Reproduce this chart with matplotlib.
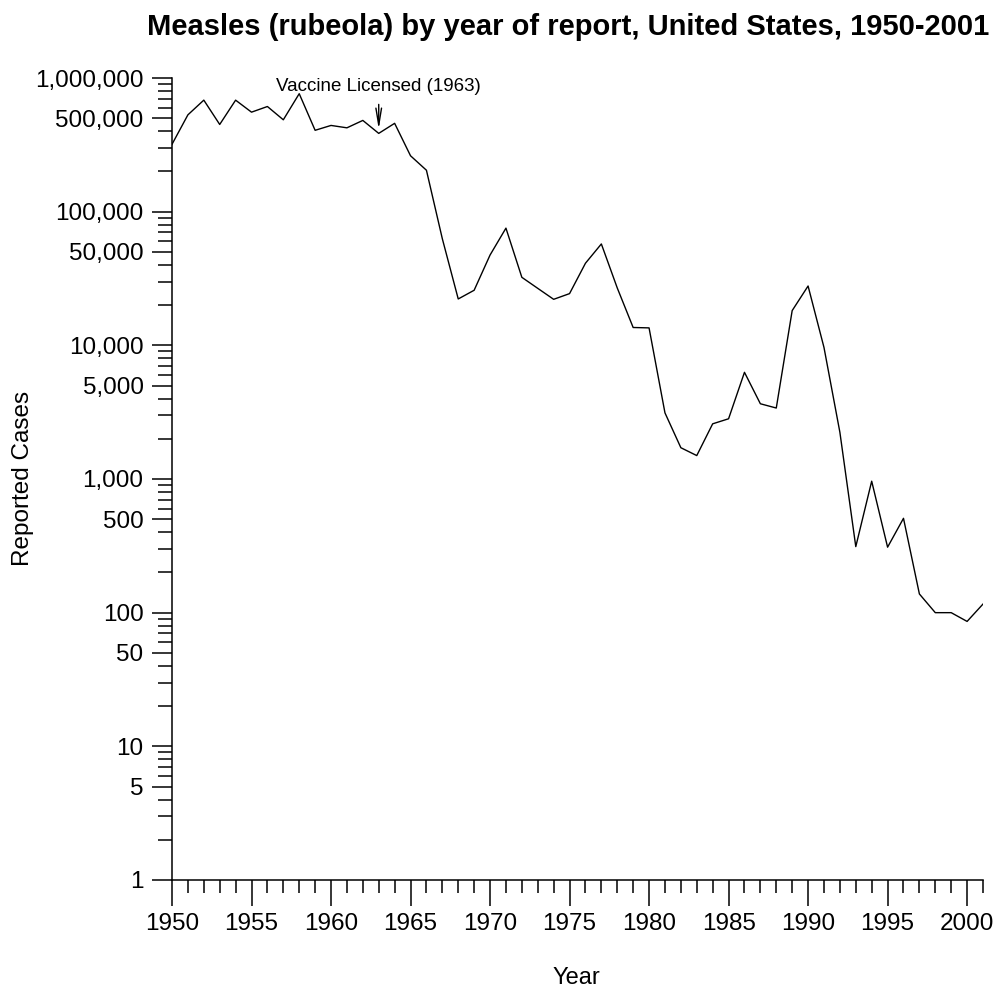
import matplotlib
matplotlib.use("Agg")
import matplotlib.pyplot as plt
from matplotlib.ticker import FixedLocator, FuncFormatter

plt.rcParams['font.family'] = ['Liberation Sans', 'DejaVu Sans']

# reported measles cases per year
years = list(range(1950, 2002))
cases = [319124, 530118, 683077, 449146, 682720, 555156, 611936, 486799,
         763094, 406162, 441703, 423919, 481530, 385156, 458083, 261904,
         204136, 62705, 22231, 25826, 47351, 75290, 32275, 26690,
         22094, 24374, 41126, 57345, 26871, 13597, 13506, 3124,
         1714, 1497, 2587, 2822, 6282, 3655, 3396, 18193,
         27786, 9643, 2237, 312, 963, 309, 508, 138,
         100, 100, 86, 116]

y_major = [1, 5, 10, 50, 100, 500, 1000, 5000, 10000, 50000,
           100000, 500000, 1000000]
x_major = [1950, 1955, 1960, 1965, 1970, 1975, 1980, 1985, 1990, 1995, 2000]
vaccine_year = 1963
vaccine_text = "Vaccine Licensed (1963)"

fig = plt.figure(figsize=(10.08, 9.91), dpi=100)
ax = fig.add_axes([172/1008, 1-880/991, 811/1008, 802/991])

ax.plot(years, cases, color='black', lw=1.0)

ax.set_yscale('log')
ax.set_ylim(1, 1000000)
ax.set_xlim(1950, 2001)

y_minor = []
for d in [1, 10, 100, 1000, 10000, 100000]:
    for m in [2, 3, 4, 6, 7, 8, 9]:
        y_minor.append(d*m)
ax.yaxis.set_major_locator(FixedLocator(y_major))
ax.yaxis.set_minor_locator(FixedLocator(y_minor))
ax.yaxis.set_major_formatter(FuncFormatter(lambda v, p: f"{int(round(v)):,}"))
ax.yaxis.set_minor_formatter(FuncFormatter(lambda v, p: ""))

ax.xaxis.set_major_locator(FixedLocator(x_major))
ax.xaxis.set_minor_locator(FixedLocator([y for y in years if y not in x_major]))

for s in ['top', 'right']:
    ax.spines[s].set_visible(False)
for s in ['left', 'bottom']:
    ax.spines[s].set_linewidth(1.1)

ax.tick_params(axis='y', which='major', direction='out', length=14.5, width=1.1,
               pad=6, labelsize=17.5)
ax.tick_params(axis='y', which='minor', direction='out', length=10, width=1.1)
ax.tick_params(axis='x', which='major', direction='out', length=19, width=1.1,
               pad=5, labelsize=17.5)
ax.tick_params(axis='x', which='minor', direction='out', length=9.5, width=1.1)
for t in ax.get_xticklines() + ax.get_yticklines():
    t.set_clip_on(False)

fig.text(576/1008, 1-978/991, 'Year', ha='center', va='center', fontsize=17)
fig.text(23/1008, 1-478/991, 'Reported Cases', ha='center', va='center',
         rotation=90, fontsize=17.5)

ax.annotate(vaccine_text, xy=(vaccine_year, cases[years.index(vaccine_year)]),
            xytext=(0, 34), textcoords='offset points', ha='center', va='center',
            fontsize=13.5,
            arrowprops=dict(arrowstyle='->, head_length=0.9, head_width=0.15',
                            lw=1.0, color='black', shrinkA=5, shrinkB=3))

fig.text(147/1008, 1-27/991,
         "Measles (rubeola) by year of report, United States, 1950-2001",
         ha='left', va='center', fontsize=21, fontweight='bold')

fig.savefig('out.png', dpi=100)
